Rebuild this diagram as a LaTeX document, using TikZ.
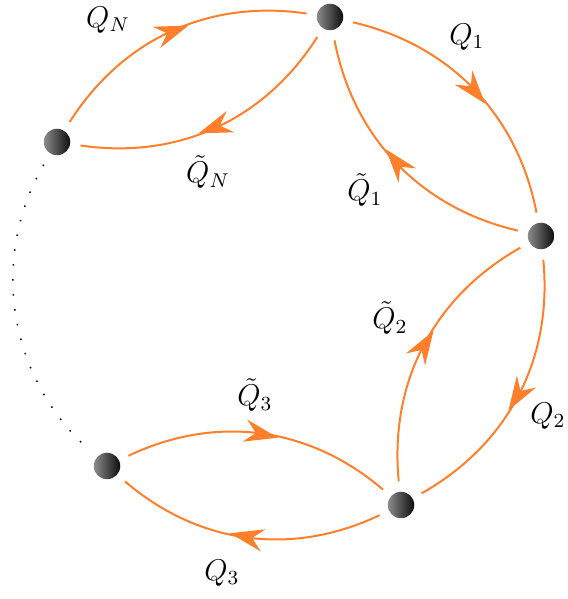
\documentclass[tikz,border=0pt]{standalone}
\usetikzlibrary{arrows.meta,decorations.markings}
\definecolor{flame}{HTML}{FF7F2A}

\begin{document}
\begin{tikzpicture}[x=0.4pt,y=0.4pt, every node/.style={font=\large}, site/.style={circle,minimum size=10.6pt,inner sep=0pt,left color=black!45,right color=black!95}, flow/.style={color=flame,line width=0.8pt,shorten <=4pt,shorten >=4pt,postaction={decorate},decoration={markings,mark=at position 0.56 with {\arrow{Stealth[length=13.5pt,width=9pt,inset=4.5pt]}}}}, gap/.style={dash pattern=on 0.6pt off 5.4pt,line width=0.6pt,shorten <=5pt,shorten >=5pt}]
\useasboundingbox (0,0) rectangle (567,599);
\node[site] (top) at (330,582) {};
\node[site] (right) at (541,363) {};
\node[site] (low) at (401,94) {};
\node[site] (lowleft) at (107,133) {};
\node[site] (left) at (57,457) {};
\node (q1) at (467,562) {$Q_1$};
\node (qt1) at (365,409) {$\tilde{Q}_1$};
\node (q2) at (548,183) {$Q_2$};
\node (qt2) at (390,281) {$\tilde{Q}_2$};
\node (q3) at (222,26) {$Q_3$};
\node (qt3) at (255,204) {$\tilde{Q}_3$};
\node (qn) at (108,579) {$Q_N$};
\node (qtn) at (208,427) {$\tilde{Q}_N$};
\draw[flow] (top) to[bend left=33] (right);\draw[flow] (right) to[bend left=33] (top);
\draw[flow] (right) to[bend left=33] (low);\draw[flow] (low) to[bend left=33] (right);
\draw[flow] (low) to[bend left=33] (lowleft);\draw[flow] (lowleft) to[bend left=33] (low);
\draw[flow] (left) to[bend left=33] (top);\draw[flow] (top) to[bend left=33] (left);
\draw[gap] (left) to[bend right=39] (lowleft);
\end{tikzpicture}
\end{document}
